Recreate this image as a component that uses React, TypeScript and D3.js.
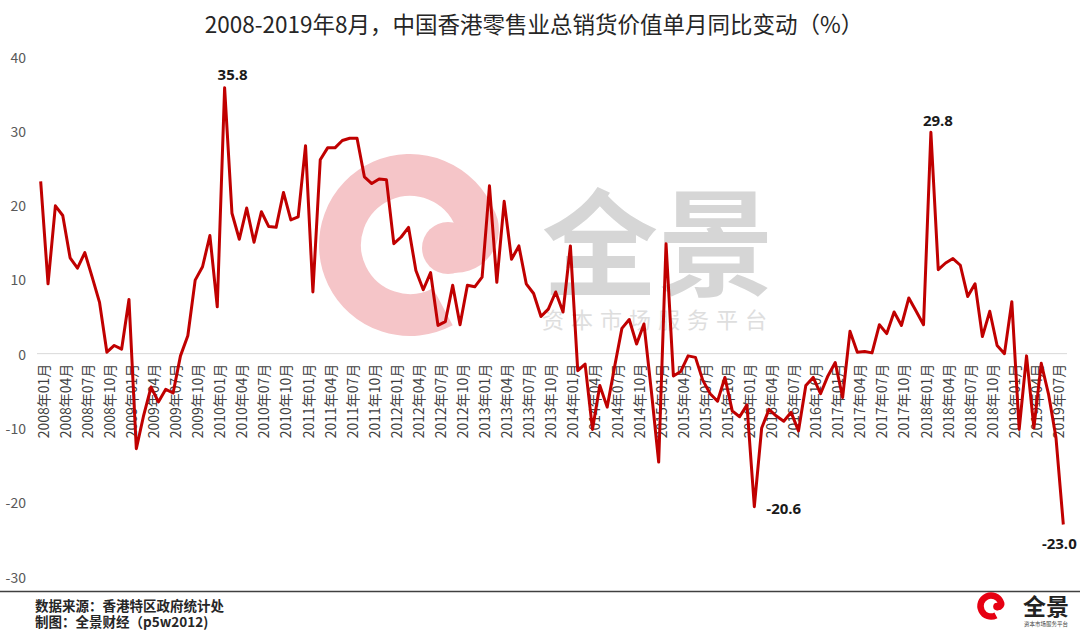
import React from "react";
import * as d3 from "d3";

const years = [2008, 2009, 2010, 2011, 2012, 2013, 2014, 2015, 2016, 2017, 2018, 2019];
const monthNames = ["01", "02", "03", "04", "05", "06", "07", "08", "09", "10", "11", "12"];
const categories: string[] = [];
years.forEach((yr) => monthNames.forEach((m) => {
  if (yr === 2019 && +m > 8) return;
  categories.push(`${yr}年${m}月`);
}));

const values = [
  23.2, 9.4, 19.9, 18.6, 12.9, 11.5, 13.6, 10.3, 6.9, 0.2, 1.1, 0.6,
  7.3, -12.8, -8.3, -4.5, -6.5, -4.8, -5.3, -0.3, 2.4, 9.9, 11.7, 15.9,
  6.3, 35.8, 18.9, 15.4, 19.6, 15.0, 19.1, 17.1, 17.0, 21.7, 18.0, 18.4,
  28.0, 8.3, 26.1, 27.7, 27.7, 28.7, 29.0, 29.0, 23.8, 22.9, 23.5, 23.4,
  14.8, 15.7, 17.0, 11.2, 8.6, 10.9, 3.8, 4.3, 9.2, 3.9, 9.2, 9.0,
  10.3, 22.6, 9.6, 20.5, 12.7, 14.5, 9.4, 8.1, 5.0, 6.0, 8.3, 5.6,
  14.5, -2.3, -1.4, -10.2, -4.3, -7.2, -1.8, 3.4, 4.6, 1.3, 4.0, -5.0,
  -14.6, 14.8, -3.0, -2.4, -0.3, -0.5, -3.6, -5.4, -6.4, -3.2, -7.7, -8.5,
  -6.9, -20.6, -10.0, -7.5, -8.4, -9.1, -7.9, -10.4, -4.3, -3.2, -5.4, -3.0,
  -1.2, -5.9, 3.0, 0.2, 0.3, 0.1, 3.9, 2.7, 5.6, 3.8, 7.5, 5.7,
  3.9, 29.8, 11.3, 12.2, 12.8, 11.9, 7.7, 9.4, 2.3, 5.7, 1.1, 0.0,
  7.0, -10.2, -0.3, -10.0, -1.3, -5.5, -11.3, -23.0,
];

const tickLabels = categories.filter((_, i) => i % 3 === 0);
const yTicks = [-30, -20, -10, 0, 10, 20, 30, 40];
const annotations = [
  { cat: "2010年02月", text: "35.8" },
  { cat: "2018年02月", text: "29.8" },
  { cat: "2016年02月", text: "-20.6" },
  { cat: "2019年08月", text: "-23.0" },
];
const annotationPlacement: Record<string, { dx: number; dy: number; anchor: string }> = {
  "35.8": { dx: 8, dy: -8, anchor: "middle" },
  "29.8": { dx: 7, dy: -6, anchor: "middle" },
  "-20.6": { dx: 12, dy: 7, anchor: "start" },
  "-23.0": { dx: -4, dy: 24, anchor: "middle" },
};

const title = "2008-2019年8月，中国香港零售业总销货价值单月同比变动（%）";
const sourceLines = ["数据来源：香港特区政府统计处", "制图：全景财经（p5w2012)"];
const brandName = "全景";
const brandSub = "资本市场服务平台";

const CJK = "'Noto Sans CJK SC', 'Noto Sans', sans-serif";

function swirlPath(cx: number, cy: number, s: number) {
  const R = 70 * s;
  const a0 = (62 * Math.PI) / 180;
  const a1 = (338 * Math.PI) / 180;
  const p0 = [cx + R * Math.cos(a0), cy + R * Math.sin(a0)];
  const p1 = [cx + R * Math.cos(a1), cy + R * Math.sin(a1)];
  const p2 = [cx + 40 * s, cy + 6 * s];
  return `M${p0[0]},${p0[1]} A${R},${R} 0 1 1 ${p1[0]},${p1[1]} A${22 * s},${22 * s} 0 0 1 ${p2[0]},${p2[1]}`;
}

export default function App() {
  const W = 1080;
  const H = 631;
  const x = d3.scalePoint<string>().domain(categories).range([37, 1067]).padding(0.5);
  const y = d3.scaleLinear().domain([-30, 40]).range([576.5, 56.5]);
  const line = d3
    .line<number>()
    .x((_, i) => x(categories[i]) as number)
    .y((d) => y(d));

  return (
    <div style={{ position: "fixed", left: 0, top: 0, width: W, height: H, background: "#fff" }}>
      <svg width={W} height={H} viewBox={`0 0 ${W} ${H}`} style={{ display: "block" }}>
        <rect width={W} height={H} fill="#fff" />
        {/* watermark */}
        <path d={swirlPath(410, 245, 1)} fill="none" stroke="#f5c5c8" strokeWidth={42} />
        <circle cx={448} cy={248} r={26} fill="#f5c5c8" />
        <text x={658} y={236} textAnchor="middle" dominantBaseline="central" fontFamily={CJK} fontWeight={700} fontSize={116} fill="#d6d6d6">
          {brandName}
        </text>
        <text x={658} y={318} textAnchor="middle" dominantBaseline="central" fontFamily={CJK} fontSize={22} letterSpacing={7} fill="#dedede">
          {brandSub}
        </text>

        {/* title */}
        <text x={534} y={23} textAnchor="middle" dominantBaseline="central" fontFamily={CJK} fontSize={22.5} fill="#262626">
          {title}
        </text>

        {/* y axis labels */}
        {yTicks.map((t) => (
          <text key={t} x={26} y={y(t)} textAnchor="end" dominantBaseline="central" fontFamily={CJK} fontSize={14} fill="#595959">
            {t}
          </text>
        ))}

        {/* zero line */}
        <line x1={37} x2={1067} y1={y(0)} y2={y(0)} stroke="#d9d9d9" strokeWidth={1} />

        {/* x tick labels */}
        {tickLabels.map((c) => (
          <text
            key={c}
            transform={`translate(${(x(c) as number) + 2},${y(0) + 10}) rotate(-90)`}
            textAnchor="end"
            dominantBaseline="central"
            fontFamily={CJK}
            fontSize={14}
            fill="#404040"
          >
            {c}
          </text>
        ))}

        {/* series */}
        <path d={line(values) || ""} fill="none" stroke="#c00000" strokeWidth={3} strokeLinejoin="round" />

        {/* annotations */}
        {annotations.map((a) => {
          const i = categories.indexOf(a.cat);
          const p = annotationPlacement[a.text];
          return (
            <text
              key={a.text}
              x={(x(a.cat) as number) + p.dx}
              y={y(values[i]) + p.dy}
              textAnchor={p.anchor as any}
              fontFamily="'Open Sans', sans-serif"
              fontWeight={700}
              fontSize={15}
              fill="#1a1a1a"
            >
              {a.text}
            </text>
          );
        })}

        {/* footer */}
        <line x1={0} x2={W} y1={591.5} y2={591.5} stroke="#404040" strokeWidth={1.5} />
        {sourceLines.map((s, i) => (
          <text key={s} x={35} y={611 + i * 16} fontFamily={CJK} fontWeight={700} fontSize={13.5} fill="#262626">
            {s}
          </text>
        ))}
        <path d={swirlPath(991, 606, 0.15)} fill="none" stroke="#e60012" strokeWidth={6.5} />
        <circle cx={997} cy={606.6} r={3.8} fill="#e60012" />
        <text x={1046} y={605} textAnchor="middle" dominantBaseline="central" fontFamily={CJK} fontWeight={700} fontSize={23} fill="#222">
          {brandName}
        </text>
        <text x={1046} y={623.5} textAnchor="middle" dominantBaseline="central" fontFamily={CJK} fontSize={5.5} fill="#444">
          {brandSub}
        </text>
      </svg>
    </div>
  );
}
